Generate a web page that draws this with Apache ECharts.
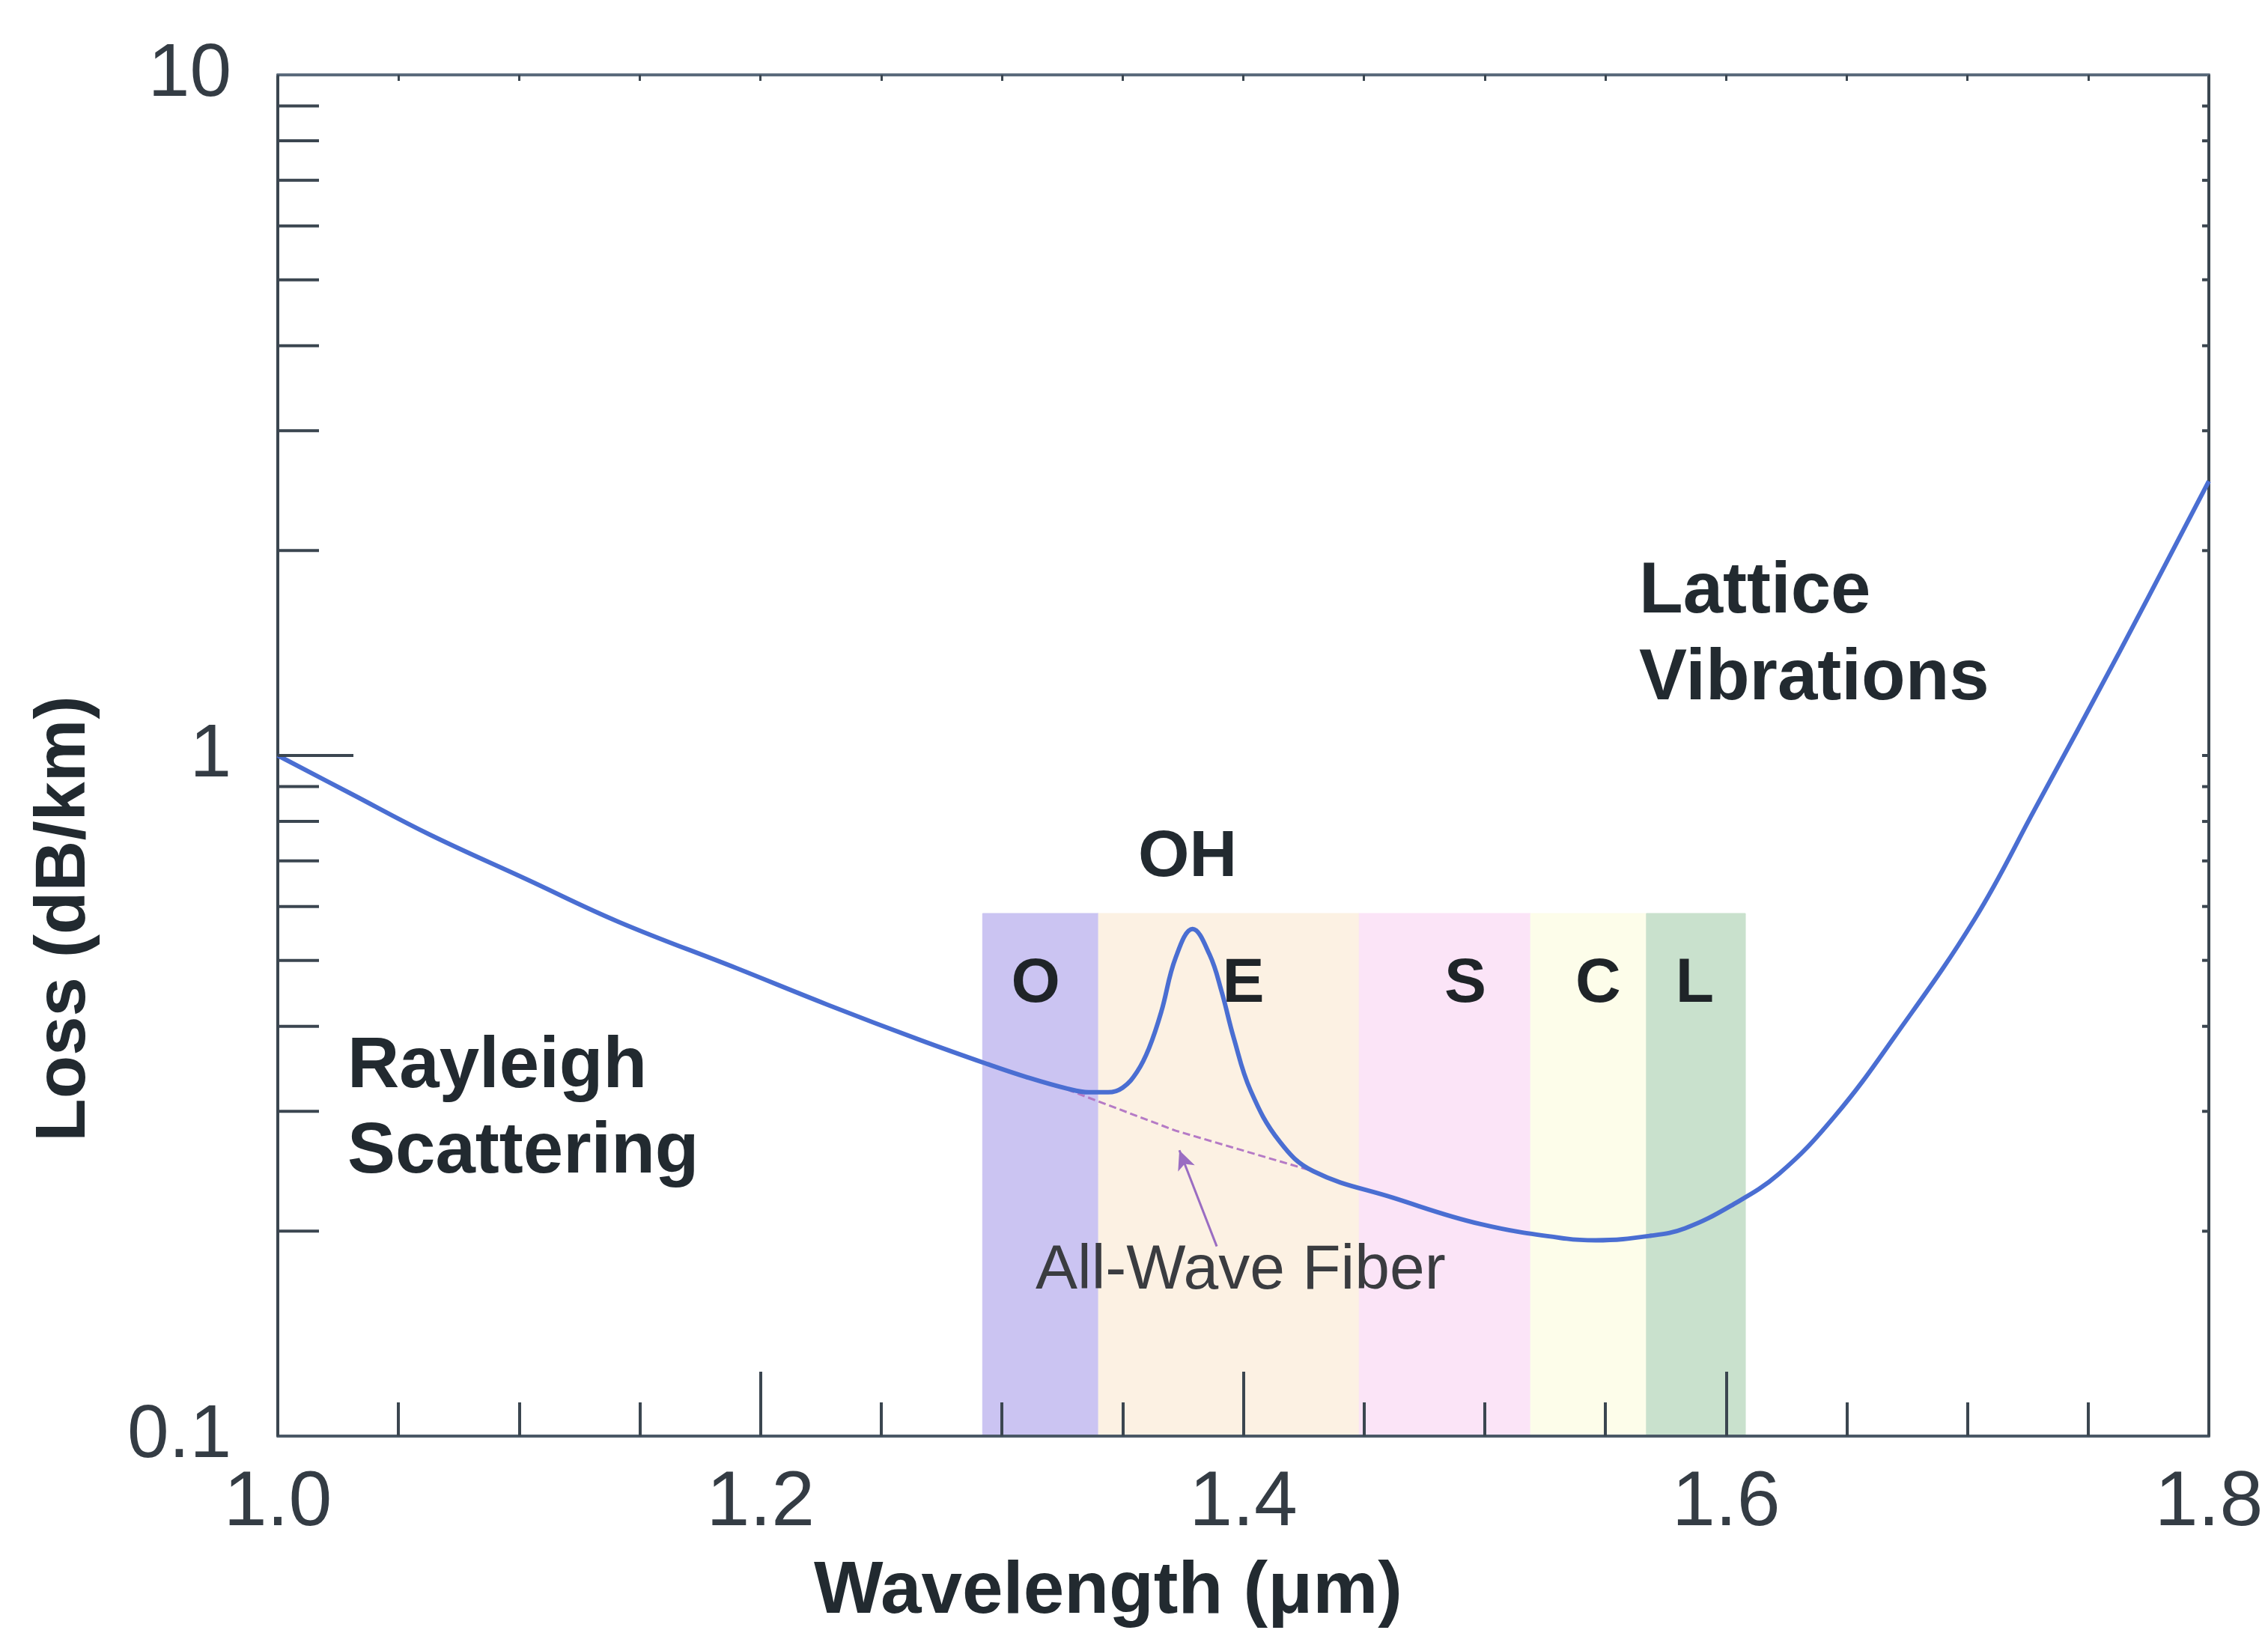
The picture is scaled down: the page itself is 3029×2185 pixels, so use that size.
<!DOCTYPE html>
<html>
<head>
  <meta charset="utf-8" />
  <title>Fiber loss</title>
  <script src="https://cdn.jsdelivr.net/npm/echarts@6/dist/echarts.min.js"></script>
  <style>
    html, body { margin: 0; padding: 0; background: #fff; }
  </style>
</head>
<body>
<div id="main" style="width: 3029px;height:2185px;"></div>
<script type="text/javascript">
  // loss curve: [wavelength um, loss dB/km]
  var lossCurve = [
    [1.000, 1.000], [1.030, 0.880], [1.063, 0.765], [1.103, 0.658],
    [1.141, 0.570], [1.190, 0.487], [1.228, 0.430], [1.266, 0.382],
    [1.294, 0.352], [1.310, 0.337], [1.327, 0.324], [1.336, 0.320],
    [1.344, 0.320], [1.350, 0.325], [1.356, 0.343], [1.361, 0.372],
    [1.366, 0.420], [1.372, 0.505], [1.379, 0.556], [1.386, 0.510],
    [1.391, 0.450], [1.396, 0.385], [1.403, 0.322], [1.415, 0.271],
    [1.429, 0.245], [1.462, 0.224], [1.498, 0.205], [1.534, 0.195],
    [1.546, 0.194], [1.569, 0.197], [1.583, 0.202], [1.602, 0.218],
    [1.622, 0.243], [1.645, 0.295], [1.670, 0.387], [1.703, 0.575],
    [1.728, 0.835], [1.763, 1.420], [1.800, 2.530]
  ];
  // all-wave fiber (no OH peak)
  var allWave = [[1.327, 0.323], [1.372, 0.281], [1.429, 0.245]];
  var arrowFrom = [1.389, 0.190];
  var arrowTo = [1.3735, 0.263];

  var bandNames = ['O', 'E', 'S', 'C', 'L'];
  var bandStart = [1.292, 1.340, 1.448, 1.519, 1.567];
  var bandEnd = [1.340, 1.448, 1.519, 1.567, 1.608];
  var bandTop = 0.586;
  var bandLabelX = [1.314, 1.400, 1.492, 1.547, 1.587];
  var bandLabelY = 0.461;
  var bandColors = ['#cbc4f2', '#fcf1e3', '#fbe4f7', '#fdfdea', '#c9e1cd'];

  var yMajorTicks = [1];
  var yMinorTicks = [0.2, 0.3, 0.4, 0.5, 0.6, 0.7, 0.8, 0.9, 2, 3, 4, 5, 6, 7, 8, 9];

  var FONT = 'Liberation Sans';
  var AXIS = '#3b4650';

  var chart = echarts.init(document.getElementById('main'));

  function tickRenderer(len, dir) {
    return function (params, api) {
      var p = api.coord([api.value(0), api.value(1)]);
      return {
        type: 'line',
        shape: { x1: p[0], y1: p[1], x2: p[0] + dir * len, y2: p[1] },
        style: { stroke: AXIS, lineWidth: 4 }
      };
    };
  }

  var bandAreas = bandNames.map(function (n, i) {
    return [
      { xAxis: bandStart[i], yAxis: 0.1,
        itemStyle: { color: bandColors[i], borderColor: bandColors[i], borderWidth: 1 } },
      { xAxis: bandEnd[i], yAxis: bandTop }
    ];
  });

  var option = {
    animation: false,
    backgroundColor: '#ffffff',
    grid: { left: 371, right: 79, top: 100, bottom: 267 },
    xAxis: [
      {
        type: 'value', min: 1.0, max: 1.8, interval: 0.2, z: 5,
        axisLine: { lineStyle: { color: '#4a5866', width: 4 } },
        axisTick: { inside: true, length: 86, lineStyle: { color: AXIS, width: 4 } },
        minorTick: { show: true, splitNumber: 4, length: 45, lineStyle: { color: AXIS, width: 4 } },
        splitLine: { show: false },
        axisLabel: {
          margin: 38, fontFamily: FONT, fontSize: 104, color: '#343c44',
          formatter: function (v) { return v.toFixed(1); }
        }
      },
      {
        type: 'value', position: 'top', min: 1.0, max: 1.8, interval: 0.05,
        axisLine: { lineStyle: { color: '#5b6b7c', width: 4 } },
        axisTick: { inside: true, length: 8, lineStyle: { color: AXIS, width: 3 } },
        axisLabel: { show: false },
        splitLine: { show: false }
      }
    ],
    yAxis: [
      {
        type: 'log', min: 0.1, max: 10, logBase: 10,
        axisLine: { lineStyle: { color: AXIS, width: 4 } },
        axisTick: { show: false },
        splitLine: { show: false },
        axisLabel: { margin: 62, fontFamily: FONT, fontSize: 100, color: '#343c44' }
      },
      {
        type: 'log', position: 'right', min: 0.1, max: 10, logBase: 10,
        axisLine: { show: true, lineStyle: { color: AXIS, width: 4 } },
        axisTick: { show: false },
        axisLabel: { show: false },
        splitLine: { show: false }
      }
    ],
    series: [
      {
        name: 'bands', type: 'line', data: [], z: -1,
        markArea: { silent: true, z: -1, data: bandAreas, label: { show: false } }
      },
      {
        name: 'bandLabels', type: 'scatter', symbolSize: 0, z: 4,
        itemStyle: { opacity: 1 },
        data: bandLabelX.map(function (x, i) { return { value: [x, bandLabelY], name: bandNames[i] }; }),
        label: {
          show: true, position: 'inside', formatter: '{b}',
          fontFamily: FONT, fontWeight: 'bold', fontSize: 84, color: '#1f2428',
          textBorderWidth: 0
        }
      },
      {
        name: 'All-Wave', type: 'line', data: allWave, showSymbol: false, z: 3,
        lineStyle: { color: '#b57ac6', width: 3, type: [10, 5] },
        markLine: {
          silent: true, symbol: ['none', 'arrow'], symbolSize: [18, 26],
          label: { show: false },
          lineStyle: { color: '#9a6dc2', width: 3, type: 'solid' },
          data: [[{ coord: arrowFrom }, { coord: arrowTo }]]
        }
      },
      {
        name: 'Loss', type: 'line', data: lossCurve, showSymbol: false,
        smooth: 0.4, z: 5,
        lineStyle: { color: '#4a6ed2', width: 6 }
      },
      {
        name: 'yMinorLeft', type: 'custom', z: 6,
        data: yMinorTicks.map(function (v) { return [1.0, v]; }),
        renderItem: tickRenderer(55, 1)
      },
      {
        name: 'yMajorLeft', type: 'custom', z: 6,
        data: yMajorTicks.map(function (v) { return [1.0, v]; }),
        renderItem: tickRenderer(101, 1)
      },
      {
        name: 'yMinorRight', type: 'custom', z: 6,
        data: yMinorTicks.concat(yMajorTicks).map(function (v) { return [1.8, v]; }),
        renderItem: tickRenderer(9, -1)
      }
    ],
    graphic: [
      {
        type: 'text', x: 464, y: 1483, z: 20,
        style: {
          text: 'Rayleigh\nScattering', font: 'bold 96px "Liberation Sans"',
          lineHeight: 114, fill: '#222a30', textAlign: 'left', textVerticalAlign: 'middle'
        }
      },
      {
        type: 'text', x: 2189, y: 850, z: 20,
        style: {
          text: 'Lattice\nVibrations', font: 'bold 96px "Liberation Sans"',
          lineHeight: 116, fill: '#222a30', textAlign: 'left', textVerticalAlign: 'middle'
        }
      },
      {
        type: 'text', x: 1586, y: 1146, z: 20,
        style: {
          text: 'OH', font: 'bold 88px "Liberation Sans"',
          fill: '#222a30', textAlign: 'center', textVerticalAlign: 'middle'
        }
      },
      {
        type: 'text', x: 1383, y: 1698, z: 20,
        style: {
          text: 'All-Wave Fiber', font: '84px "Liberation Sans"',
          fill: '#3a3c40', textAlign: 'left', textVerticalAlign: 'middle'
        }
      },
      {
        type: 'text', x: 1480, y: 2127, z: 20,
        style: {
          text: 'Wavelength (\u03bcm)', font: 'bold 98px "Liberation Sans"',
          fill: '#222a30', textAlign: 'center', textVerticalAlign: 'middle'
        }
      },
      {
        type: 'text', x: 87, y: 1227, rotation: Math.PI / 2, z: 20,
        style: {
          text: 'Loss (dB/km)', font: 'bold 94px "Liberation Sans"',
          fill: '#222a30', textAlign: 'center', textVerticalAlign: 'middle'
        }
      }
    ]
  };

  chart.setOption(option);
</script>
</body>
</html>
